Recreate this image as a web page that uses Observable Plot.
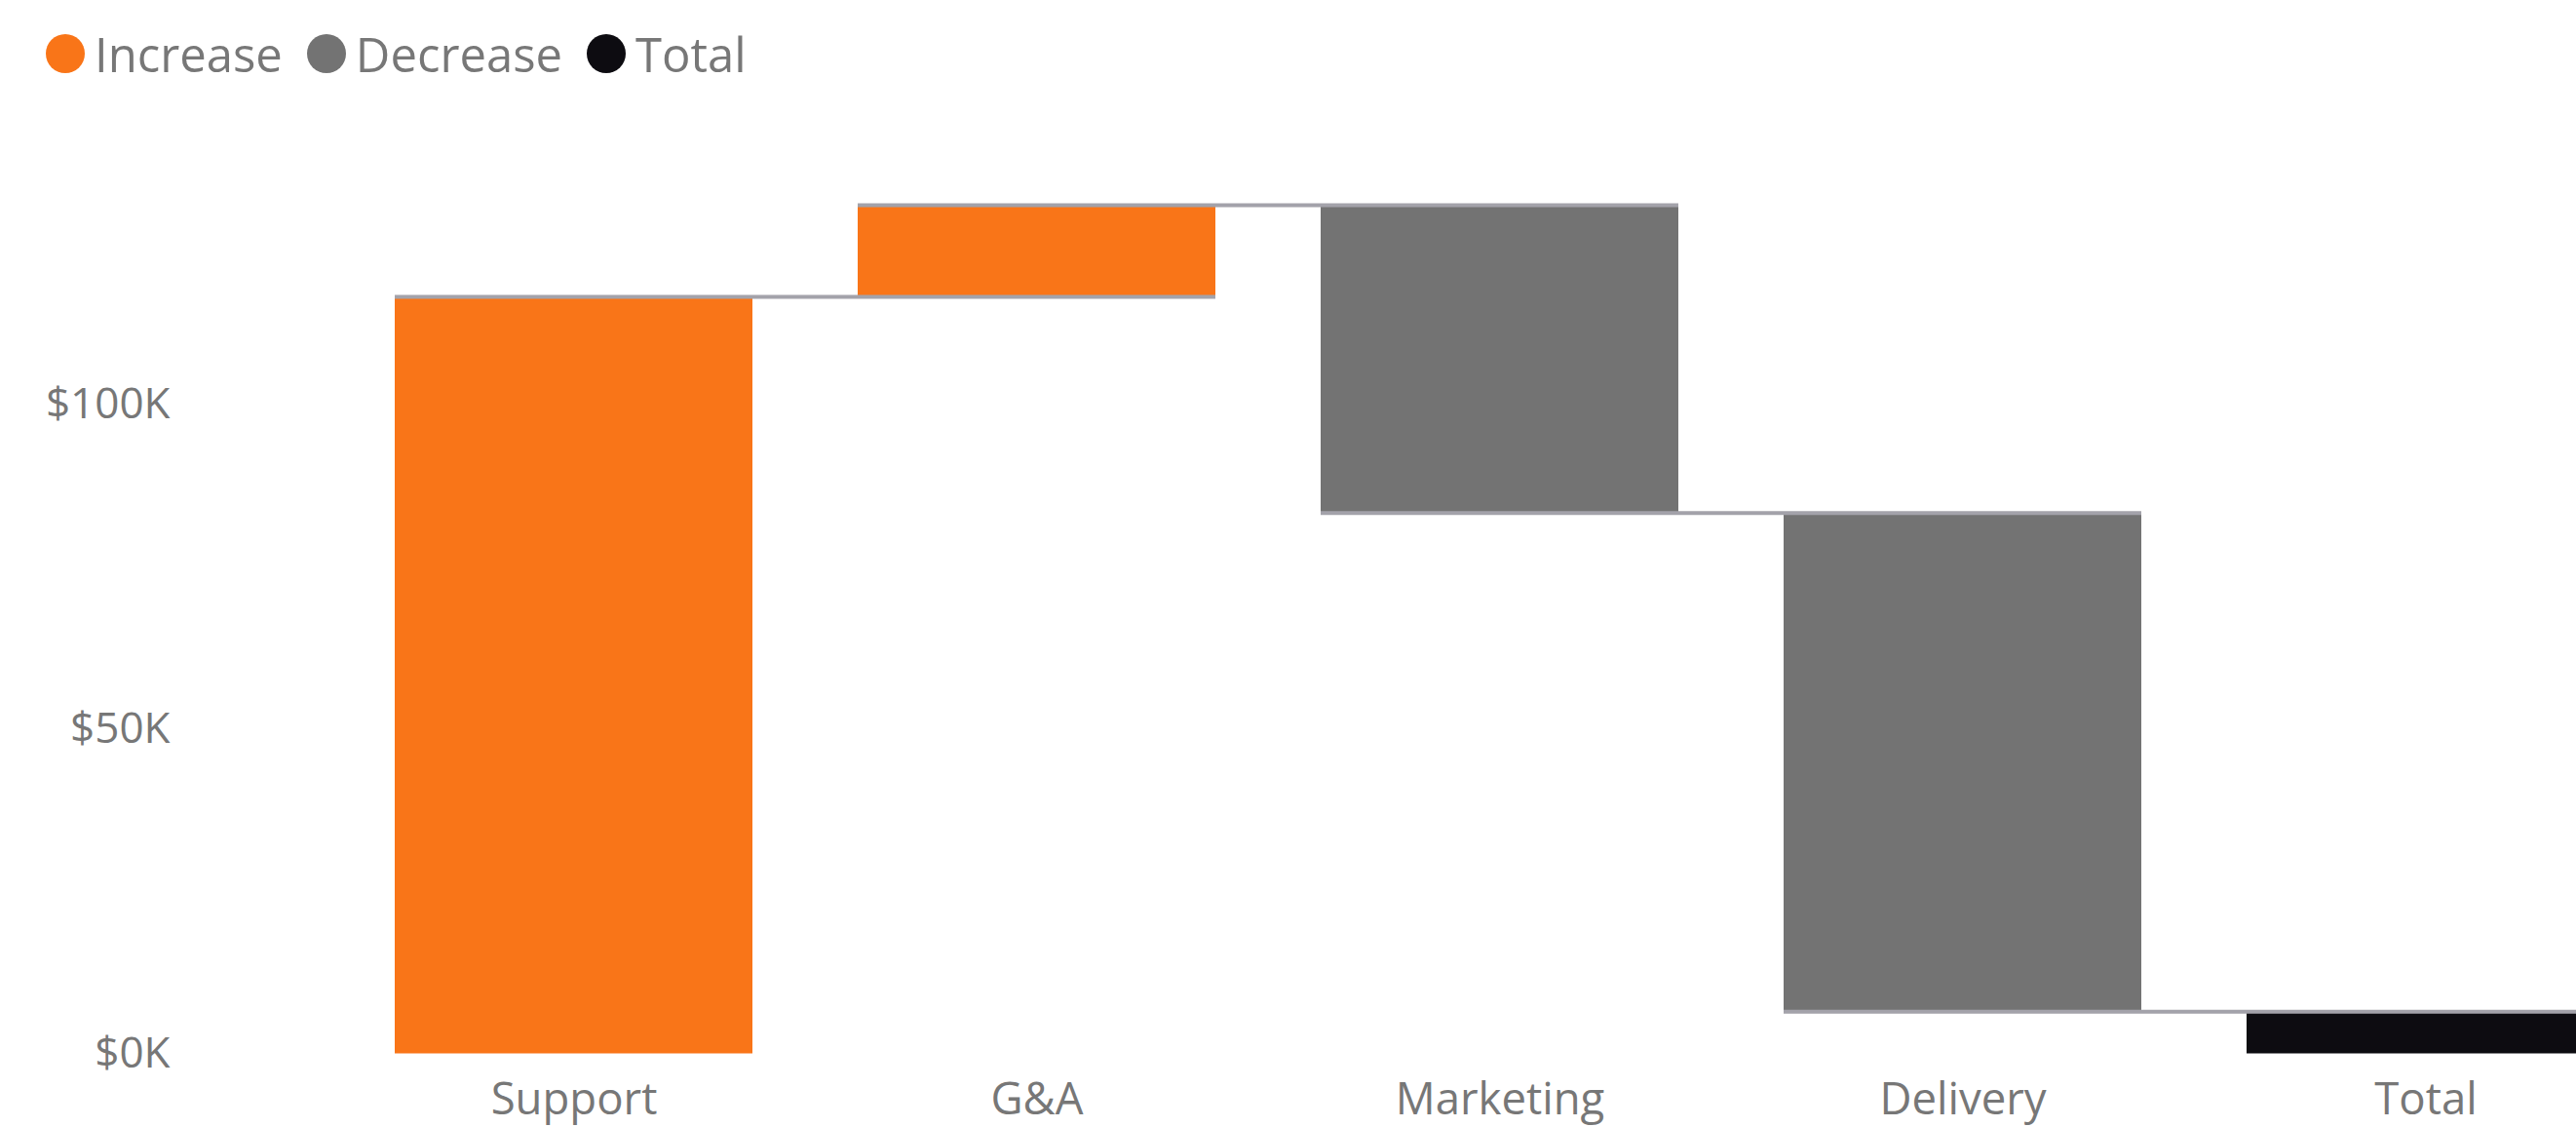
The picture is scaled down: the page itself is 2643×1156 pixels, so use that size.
<!DOCTYPE html>
<html><head><meta charset="utf-8">
<script src="https://cdn.jsdelivr.net/npm/d3@7"></script>
<script src="https://cdn.jsdelivr.net/npm/@observablehq/plot@0.6"></script>
<style>
html,body{margin:0;padding:0;background:#fff;overflow:hidden;}
#legend{display:flex;align-items:center;height:110px;padding-left:47px;font-family:"Open Sans",sans-serif;font-size:49px;color:#777;}
.item{display:flex;align-items:center;margin-right:25px;}
.dot{width:40px;height:40px;border-radius:50%;margin-right:10px;}
</style></head><body>
<div id="legend"></div>
<div id="chart"></div>
<script>
const categories = ["Support", "G&A", "Marketing", "Delivery", "Total"];
const changes = [116600, 14100, -47400, -76800];
const legendLabels = ["Increase", "Decrease", "Total"];
const legendColors = ["#F97518", "#737373", "#0D0C11"];
const yTicks = [0, 50000, 100000];
const connectorColor = "#A3A2AA";

// build waterfall table
const bars = [];
let cum = 0;
changes.forEach((c, i) => {
  bars.push({cat: categories[i], start: cum, end: cum + c, type: c >= 0 ? "Increase" : "Decrease"});
  cum += c;
});
bars.push({cat: categories[categories.length - 1], start: 0, end: cum, type: "Total"});
const links = bars.slice(0, -1).map((b, i) => ({x1: b.cat, x2: categories[i + 1], y: b.end}));

// legend
const legend = d3.select("#legend");
legendLabels.forEach((l, i) => {
  const it = legend.append("div").attr("class", "item");
  it.append("div").attr("class", "dot").style("background", legendColors[i]);
  it.append("span").text(l);
});

const chart = Plot.plot({
  width: 2643,
  height: 1046,
  marginLeft: 174,
  marginRight: 0,
  marginTop: 0,
  marginBottom: 75.5,
  style: {fontFamily: "Open Sans, sans-serif", fontSize: "44px", color: "#777", background: "#fff"},
  x: {type: "band", domain: categories, range: [167.5, 2909.5], paddingInner: 0.2274, paddingOuter: 0.5, align: 0.5, label: null},
  y: {domain: [0, 100000], range: [970.5, 304.5], label: null},
  color: {domain: legendLabels, range: legendColors},
  marks: [
    Plot.barY(bars, {x: "cat", y1: "start", y2: "end", fill: "type"}),
    Plot.ruleY(links, {x1: "x1", x2: "x2", y: "y", stroke: connectorColor, strokeWidth: 4}),
    Plot.axisX({tickSize: 0, tickPadding: 30, fontSize: 45.5, label: null}),
    Plot.axisY({ticks: yTicks, tickSize: 0, tickPadding: 0, tickFormat: d => "$" + d / 1000 + "K", label: null})
  ]
});
document.getElementById("chart").append(chart);
</script>
</body></html>
